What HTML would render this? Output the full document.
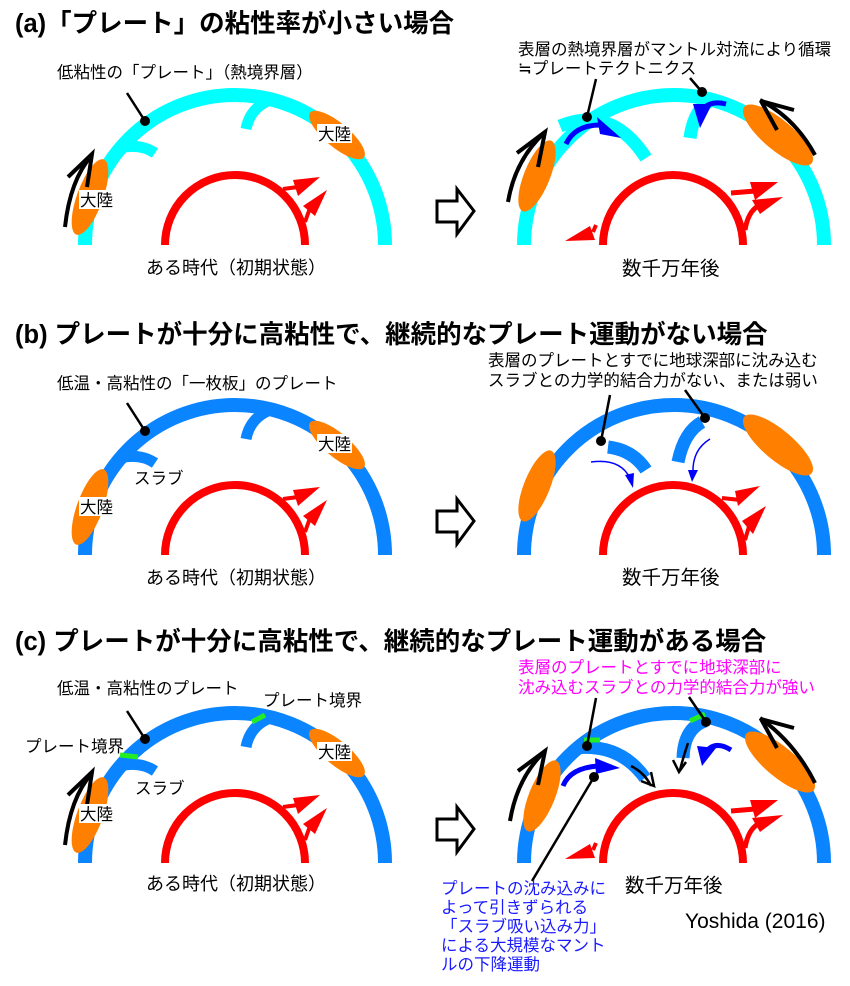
<!DOCTYPE html>
<html><head><meta charset="utf-8"><style>
html,body{margin:0;padding:0;background:#fff}
svg{display:block}
text{font-family:"Liberation Sans","Noto Sans CJK JP",sans-serif}
</style></head><body>
<svg width="850" height="986" viewBox="0 0 850 986" xmlns="http://www.w3.org/2000/svg">
<defs>
<g id="hollow"><path d="M437,201 H457 V189 L474,211 L457,234 V222 H437 Z" fill="#fff" stroke="#000" stroke-width="3"/></g>
<g id="redL">
<path d="M165,245 A70,70 0 0 1 305,245" fill="none" stroke="#ff0000" stroke-width="8"/>
<path d="M283,189 L298,187" stroke="#f00" stroke-width="4"/><path d="M293,180 L320,177 L298,196 Z" fill="#f00"/>
<path d="M305,222 L310,208" stroke="#f00" stroke-width="4"/><path d="M303,206 L327,190 L315,216 Z" fill="#f00"/>
</g>
<g id="redR">
<path d="M603,245 A70,70 0 0 1 743,245" fill="none" stroke="#ff0000" stroke-width="8"/>
<path d="M731,193 L755,191" stroke="#f00" stroke-width="5"/><path d="M750,182 L778,182 L755,200 Z" fill="#f00"/>
<path d="M745,230 Q748,212 758,206" stroke="#f00" stroke-width="5" fill="none"/><path d="M752,200 L783,197 L760,214 Z" fill="#f00"/>
<path d="M596,225 L593,232" stroke="#f00" stroke-width="4"/><path d="M565,241 L590,226 L595,240 Z" fill="#f00"/>
</g>
</defs>

<text x="15" y="32" font-size="25.5" font-weight="bold">(a)「プレート」の粘性率が小さい場合</text>
<text x="15" y="343" font-size="25.5" font-weight="bold">(b) プレートが十分に高粘性で、継続的なプレート運動がない場合</text>
<text x="15" y="650" font-size="25.5" font-weight="bold">(c) プレートが十分に高粘性で、継続的なプレート運動がある場合</text>

<!-- ===== Panel A ===== -->
<g>
<path d="M85,245 A150,150 0 0 1 385,245" fill="none" stroke="#00ffff" stroke-width="14"/>
<path d="M120,148 Q140,143 155,153" fill="none" stroke="#00ffff" stroke-width="11"/>
<path d="M270,100 Q250,108 246,129" fill="none" stroke="#00ffff" stroke-width="11"/>
<ellipse cx="90" cy="197" rx="13" ry="40" transform="rotate(20 90 197)" fill="#ff8000"/>
<ellipse cx="337" cy="135" rx="12" ry="35" transform="rotate(-50 337 135)" fill="#ff8000"/>
<path d="M65,227 Q70,180 92,155" fill="none" stroke="#000" stroke-width="4"/>
<path d="M68,177 L92,154 L87,187" fill="none" stroke="#000" stroke-width="4"/>
<rect x="79" y="190" width="34" height="19" fill="#fff"/>
<text x="80" y="206" font-size="16.5">大陸</text>
<rect x="317" y="124" width="35" height="19" fill="#fff"/>
<text x="318" y="140" font-size="16.5">大陸</text>
<line x1="127" y1="93" x2="145" y2="121" stroke="#000" stroke-width="2.5"/><circle cx="145" cy="121" r="5"/>
<text x="57" y="78" font-size="16.5">低粘性の「プレート」（熱境界層）</text>
<use href="#redL"/>
<text x="146" y="274" font-size="18">ある時代（初期状態）</text>
<use href="#hollow"/>
<path d="M524,245 A150,150 0 0 1 824,245" fill="none" stroke="#00ffff" stroke-width="14"/>
<path d="M560,126 Q612,105 646,158" fill="none" stroke="#00ffff" stroke-width="13"/>
<path d="M714,99 Q694,107 690,138" fill="none" stroke="#00ffff" stroke-width="13"/>
<ellipse cx="537" cy="176" rx="13" ry="38" transform="rotate(22 537 176)" fill="#ff8000"/>
<ellipse cx="778" cy="135" rx="15" ry="44" transform="rotate(-50 778 135)" fill="#ff8000"/>
<path d="M508,202 Q515,160 545,132" fill="none" stroke="#000" stroke-width="4"/>
<path d="M517,153 L545,132 L538,167" fill="none" stroke="#000" stroke-width="4"/>
<path d="M815,155 Q795,118 760,100" fill="none" stroke="#000" stroke-width="4"/>
<path d="M761,101 L794,110 M761,101 L777,130" fill="none" stroke="#000" stroke-width="4"/>
<path d="M566,144 Q575,125 600,125" fill="none" stroke="#0000ff" stroke-width="5"/>
<path d="M597,117 L621,138 L600,134 Z" fill="#0000ff"/>
<path d="M726,104 Q710,100 702,110" fill="none" stroke="#0000ff" stroke-width="5"/>
<path d="M693,104 L712,104 L700,128 Z" fill="#0000ff"/>
<line x1="596" y1="79" x2="587" y2="117" stroke="#000" stroke-width="2.5"/><circle cx="587" cy="117" r="5"/>
<line x1="690" y1="78" x2="702" y2="92" stroke="#000" stroke-width="2.5"/><circle cx="702" cy="92" r="5"/>
<text x="518" y="55" font-size="16.5">表層の熱境界層がマントル対流により循環</text>
<text x="518" y="74" font-size="16.5">≒プレートテクトニクス</text>
<use href="#redR"/>
<text x="622" y="275" font-size="19.5">数千万年後</text>
</g>

<!-- ===== Panel B ===== -->
<g transform="translate(0,310)">
<path d="M85,245 A150,150 0 0 1 385,245" fill="none" stroke="#0a84ff" stroke-width="14"/>
<path d="M120,148 Q140,143 155,153" fill="none" stroke="#0a84ff" stroke-width="11"/>
<path d="M270,100 Q250,108 246,129" fill="none" stroke="#0a84ff" stroke-width="11"/>
<ellipse cx="90" cy="197" rx="13" ry="40" transform="rotate(20 90 197)" fill="#ff8000"/>
<ellipse cx="337" cy="135" rx="12" ry="35" transform="rotate(-50 337 135)" fill="#ff8000"/>
<rect x="79" y="187" width="34" height="19" fill="#fff"/>
<text x="80" y="203" font-size="16.5">大陸</text>
<rect x="317" y="124" width="35" height="19" fill="#fff"/>
<text x="318" y="140" font-size="16.5">大陸</text>
<line x1="127" y1="93" x2="145" y2="121" stroke="#000" stroke-width="2.5"/><circle cx="145" cy="121" r="5"/>
<text x="57" y="79" font-size="16.5">低温・高粘性の「一枚板」のプレート</text>
<text x="134" y="174" font-size="16.5">スラブ</text>
<use href="#redL"/>
<text x="146" y="274" font-size="18">ある時代（初期状態）</text>
<use href="#hollow"/>
<path d="M524,245 A150,150 0 0 1 824,245" fill="none" stroke="#0a84ff" stroke-width="14"/>
<path d="M608,137 Q633,140 646,160" fill="none" stroke="#0a84ff" stroke-width="13"/>
<path d="M702,112 Q684,122 678,152" fill="none" stroke="#0a84ff" stroke-width="13"/>
<ellipse cx="537" cy="176" rx="13" ry="38" transform="rotate(22 537 176)" fill="#ff8000"/>
<ellipse cx="778" cy="135" rx="15" ry="44" transform="rotate(-50 778 135)" fill="#ff8000"/>
<path d="M591,152 Q620,148 630,168" fill="none" stroke="#0000ff" stroke-width="1.5"/>
<path d="M625,165 L633,178 L634,163 Z" fill="#0000ff"/>
<path d="M710,129 Q692,140 693,163" fill="none" stroke="#0000ff" stroke-width="1.5"/>
<path d="M688,160 L692,172 L698,160 Z" fill="#0000ff"/>
<line x1="610" y1="85" x2="601" y2="131" stroke="#000" stroke-width="2.5"/><circle cx="601" cy="131" r="5"/>
<line x1="685" y1="80" x2="705" y2="108" stroke="#000" stroke-width="2.5"/><circle cx="705" cy="108" r="5"/>
<text x="488" y="56" font-size="16.5">表層のプレートとすでに地球深部に沈み込む</text>
<text x="488" y="76" font-size="16.5">スラブとの力学的結合力がない、または弱い</text>
<path d="M603,245 A70,70 0 0 1 743,245" fill="none" stroke="#ff0000" stroke-width="8"/>
<path d="M722,188 L740,190" stroke="#f00" stroke-width="4"/><path d="M735,181 L760,176 L738,196 Z" fill="#f00"/>
<path d="M745,230 L750,213" stroke="#f00" stroke-width="4"/><path d="M742,211 L766,196 L753,224 Z" fill="#f00"/>
<text x="622" y="274" font-size="19.5">数千万年後</text>
</g>

<!-- ===== Panel C ===== -->
<g transform="translate(0,618)">
<path d="M85,245 A150,150 0 0 1 385,245" fill="none" stroke="#0a84ff" stroke-width="14"/>
<path d="M120,148 Q140,143 155,153" fill="none" stroke="#0a84ff" stroke-width="11"/>
<path d="M270,100 Q250,108 246,129" fill="none" stroke="#0a84ff" stroke-width="11"/>
<path d="M120,137 L138,139" stroke="#22ee22" stroke-width="5"/>
<path d="M252,104 L265,97" stroke="#22ee22" stroke-width="5"/>
<ellipse cx="90" cy="197" rx="13" ry="40" transform="rotate(20 90 197)" fill="#ff8000"/>
<ellipse cx="337" cy="135" rx="12" ry="35" transform="rotate(-50 337 135)" fill="#ff8000"/>
<path d="M65,227 Q70,180 92,155" fill="none" stroke="#000" stroke-width="4"/>
<path d="M68,177 L92,154 L87,187" fill="none" stroke="#000" stroke-width="4"/>
<rect x="79" y="186" width="34" height="19" fill="#fff"/>
<text x="80" y="202" font-size="16.5">大陸</text>
<rect x="317" y="124" width="35" height="19" fill="#fff"/>
<text x="318" y="140" font-size="16.5">大陸</text>
<line x1="127" y1="93" x2="145" y2="121" stroke="#000" stroke-width="2.5"/><circle cx="145" cy="121" r="5"/>
<text x="57" y="76" font-size="16.5">低温・高粘性のプレート</text>
<text x="263" y="88" font-size="16.5">プレート境界</text>
<text x="25" y="134" font-size="16.5">プレート境界</text>
<text x="135" y="176" font-size="16.5">スラブ</text>
<use href="#redL"/>
<text x="146" y="272" font-size="18">ある時代（初期状態）</text>
<use href="#hollow"/>
<path d="M524,245 A150,150 0 0 1 824,245" fill="none" stroke="#0a84ff" stroke-width="14"/>
<path d="M575,130 Q620,125 645,160" fill="none" stroke="#0a84ff" stroke-width="13"/>
<path d="M705,103 Q684,110 683,140" fill="none" stroke="#0a84ff" stroke-width="13"/>
<path d="M584,122 L600,122" stroke="#22ee22" stroke-width="5"/>
<path d="M690,103 L705,96" stroke="#22ee22" stroke-width="5"/>
<ellipse cx="542" cy="178" rx="13" ry="38" transform="rotate(22 542 178)" fill="#ff8000"/>
<ellipse cx="780" cy="144" rx="15" ry="44" transform="rotate(-50 780 144)" fill="#ff8000"/>
<path d="M510,203 Q517,160 545,133" fill="none" stroke="#000" stroke-width="4"/>
<path d="M518,153 L545,133 L538,167" fill="none" stroke="#000" stroke-width="4"/>
<path d="M815,165 Q795,125 760,100" fill="none" stroke="#000" stroke-width="4"/>
<path d="M761,101 L794,110 M761,101 L777,130" fill="none" stroke="#000" stroke-width="4"/>
<path d="M631,148 Q645,155 651,168 M641,163 L654,168 L651,154" fill="none" stroke="#000" stroke-width="2.5"/>
<path d="M688,125 Q683,140 680,152 M673,142 L679,154 L686,144" fill="none" stroke="#000" stroke-width="2.5"/>
<path d="M563,168 Q570,150 598,148" fill="none" stroke="#0000ff" stroke-width="5"/>
<path d="M595,140 L620,150 L596,156 Z" fill="#0000ff"/>
<path d="M731,132 Q715,122 706,134" fill="none" stroke="#0000ff" stroke-width="5"/>
<path d="M697,128 L716,130 L702,148 Z" fill="#0000ff"/>
<line x1="596" y1="80" x2="587" y2="128" stroke="#000" stroke-width="2.5"/><circle cx="587" cy="128" r="5"/>
<line x1="689" y1="79" x2="706" y2="104" stroke="#000" stroke-width="2.5"/><circle cx="706" cy="104" r="5"/>
<line x1="594" y1="159" x2="532" y2="263" stroke="#000" stroke-width="2.5"/><circle cx="594" cy="159" r="5"/>
<text x="518" y="55" font-size="16.5" fill="#ff00ff">表層のプレートとすでに地球深部に</text>
<text x="518" y="75" font-size="16.5" fill="#ff00ff">沈み込むスラブとの力学的結合力が強い</text>
<use href="#redR"/>
<text x="625" y="274" font-size="19.5">数千万年後</text>
<text x="441" y="276" font-size="16.5" fill="#1a1aff">プレートの沈み込みに</text>
<text x="441" y="295" font-size="16.5" fill="#1a1aff">よって引きずられる</text>
<text x="441" y="314" font-size="16.5" fill="#1a1aff">「スラブ吸い込み力」</text>
<text x="441" y="333" font-size="16.5" fill="#1a1aff">による大規模なマント</text>
<text x="441" y="352" font-size="16.5" fill="#1a1aff">ルの下降運動</text>
<text x="685" y="310" font-size="21">Yoshida (2016)</text>
</g>
</svg>
</body></html>
